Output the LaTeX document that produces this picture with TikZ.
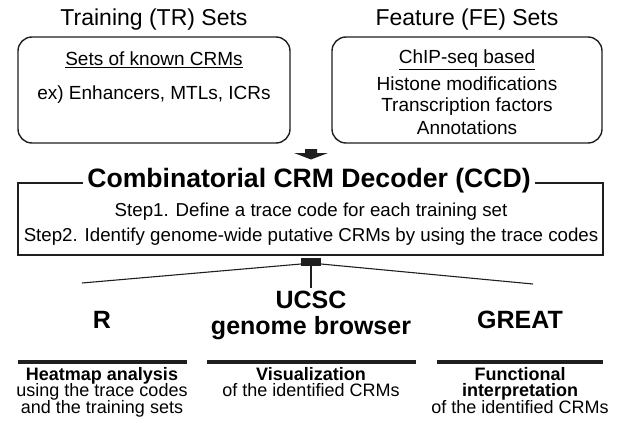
\documentclass[tikz,border=0pt]{standalone}
\usepackage{fontspec}
\setmainfont{Liberation Sans}
\begin{document}
\begin{tikzpicture}[x=1pt,y=-1pt,
  headtxt/.style={font=\fontsize{23}{26}\selectfont, inner sep=0pt},
  bodytxt/.style={font=\fontsize{19}{22}\selectfont, inner sep=0pt, align=center},
  steptxt/.style={font=\fontsize{18.7}{22}\selectfont, inner sep=0pt, align=center},
  roundbox/.style={draw=black!88, line width=1.4pt, rounded corners=14pt},
  ccdbox/.style={draw=black!88, line width=1.2pt},
  tooltxt/.style={font=\bfseries\fontsize{25}{26}\selectfont, inner sep=0pt, align=center},
  desctxt/.style={font=\fontsize{18}{18}\selectfont, inner sep=0pt, anchor=base},
  descbold/.style={desctxt, font=\bfseries\fontsize{18}{18}\selectfont},
  bar/.style={line width=4.5pt, draw=black!88},
  thinline/.style={line width=1.1pt, draw=black!88}]
\useasboundingbox (0,0) rectangle (621,436);

% top titles
\node[headtxt] (trt) at (154,20) {Training (TR) Sets};
\node[headtxt] (fet) at (467,20) {Feature (FE) Sets};

% rounded boxes
\draw[roundbox] (18,37) rectangle (290,143);
\draw[roundbox] (332,37) rectangle (602,143);
\node[bodytxt] (known) at (154,60) {\underline{Sets of known CRMs}};
\node[bodytxt] (ex) at (154,95) {ex) Enhancers, MTLs, ICRs};
\node[bodytxt] (chip) at (467,60) {\underline{ChIP-seq based}};
\node[bodytxt] (hist) at (467,84) {Histone modifications};
\node[bodytxt] (tf) at (467,107) {Transcription factors};
\node[bodytxt] (ann) at (467,128) {Annotations};

% block arrow
\fill[black!88] (305,149) -- (317,149) -- (317,153) -- (328,153) -- (311,159.5) -- (294,153) -- (305,153) -- cycle;

% CCD box
\node[font=\bfseries\fontsize{26.6}{28}\selectfont, inner sep=0pt] (ccd) at (309,181) {Combinatorial CRM Decoder (CCD)};
\draw[ccdbox] ([xshift=-4pt]ccd.west |- 0,183) -- (18,183) -- (18,255) -- (603,255) -- (603,183) -- ([xshift=4pt]ccd.east |- 0,183);
\node[steptxt] (s1) at (311,212) {Step1. Define a trace code for each training set};
\node[steptxt] (s2) at (311,237) {Step2. Identify genome-wide putative CRMs by using the trace codes};

% connector
\fill[black!88] (301,258) rectangle (321,266);
\coordinate (hubL) at (301,264);
\coordinate (hubR) at (321,264);
\coordinate (hubB) at (311,266);
\coordinate (endL) at (82,283);
\coordinate (endR) at (533,284);
\coordinate (endB) at (311,288);
\draw[thinline] (hubL) -- (endL);
\draw[thinline] (hubR) -- (endR);
\draw[thinline] (hubB) -- (endB);

% tools
\node[tooltxt] (r) at (102,320) {R};
\node[tooltxt] (ucsc) at (311,315) {UCSC\\genome browser};
\node[tooltxt] (great) at (520,320) {GREAT};

% bars
\draw[bar] (18,362) -- (187,362);
\draw[bar] (207,362) -- (416,362);
\draw[bar] (437,362) -- (603,362);

% descriptions
\node[descbold] (d1a) at (102,380) {Heatmap analysis};
\node[desctxt] (d1b) at (102,396.5) {using the trace codes};
\node[desctxt] (d1c) at (102,413) {and the training sets};
\node[descbold] (d2a) at (311,380) {Visualization};
\node[desctxt] (d2b) at (311,396.5) {of the identified CRMs};
\node[descbold] (d3a) at (520,380) {Functional};
\node[descbold] (d3b) at (520,396.5) {interpretation};
\node[desctxt] (d3c) at (520,413) {of the identified CRMs};
\end{tikzpicture}
\end{document}
